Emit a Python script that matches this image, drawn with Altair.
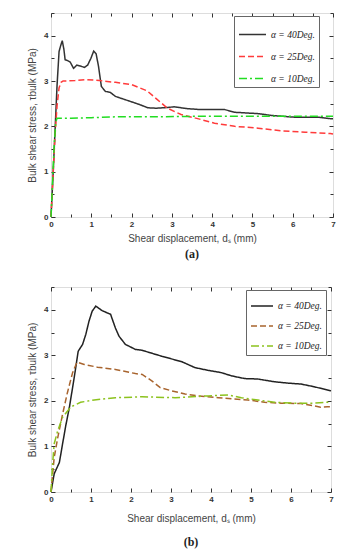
import altair as alt
import pandas as pd

# ---------------- data ----------------
names = ["α = 40Deg.", "α = 25Deg.", "α = 10Deg."]

a40_x = [0, 0.05, 0.1, 0.15, 0.2, 0.24, 0.28, 0.32, 0.35, 0.41, 0.475, 0.56, 0.64, 0.73, 0.83, 0.91, 0.99, 1.06, 1.12, 1.18, 1.25, 1.35, 1.47, 1.6, 1.8, 1.97, 2.2, 2.4, 2.6, 2.8, 3.06, 3.39, 3.7, 4.06, 4.31, 4.56, 5.14, 5.48, 6.06, 6.64, 6.93, 7.0]
a40_y = [0, 0.9, 1.9, 2.9, 3.65, 3.78, 3.89, 3.7, 3.47, 3.45, 3.42, 3.28, 3.35, 3.33, 3.3, 3.35, 3.5, 3.66, 3.6, 3.32, 2.88, 2.77, 2.75, 2.66, 2.6, 2.55, 2.48, 2.41, 2.4, 2.41, 2.43, 2.39, 2.37, 2.37, 2.37, 2.31, 2.28, 2.24, 2.2, 2.2, 2.17, 2.17]

a25_x = [0, 0.05, 0.1, 0.15, 0.2, 0.25, 0.3, 0.6, 0.9, 1.2, 1.6, 2.0, 2.39, 2.64, 2.89, 3.23, 3.64, 4.06, 4.56, 5.14, 5.73, 6.31, 6.93, 7.0]
a25_y = [0, 0.9, 1.8, 2.45, 2.85, 2.97, 3.0, 3.01, 3.03, 3.01, 2.97, 2.92, 2.78, 2.59, 2.4, 2.26, 2.17, 2.07, 2.0, 1.96, 1.9, 1.87, 1.84, 1.83]

a10_x = [0, 0.04, 0.08, 0.12, 0.15, 0.5, 1.0, 1.6, 2.5, 3.5, 5.0, 6.0, 7.0]
a10_y = [0, 0.8, 1.6, 2.1, 2.18, 2.18, 2.19, 2.21, 2.21, 2.22, 2.22, 2.22, 2.22]

b40_x = [0, 0.08, 0.21, 0.29, 0.37, 0.46, 0.58, 0.68, 0.79, 0.87, 0.95, 1.03, 1.12, 1.28, 1.49, 1.61, 1.7, 1.86, 2.11, 2.28, 2.77, 3.27, 3.6, 3.93, 4.26, 4.51, 4.84, 5.17, 5.58, 5.92, 6.25, 6.58, 6.91, 7.0]
b40_y = [0, 0.4, 0.65, 1.06, 1.46, 1.86, 2.51, 3.09, 3.24, 3.46, 3.75, 3.97, 4.08, 3.98, 3.9, 3.6, 3.42, 3.24, 3.13, 3.11, 2.98, 2.86, 2.73, 2.67, 2.62, 2.55, 2.49, 2.48, 2.42, 2.39, 2.37, 2.31, 2.24, 2.22]

b25_x = [0, 0.08, 0.17, 0.29, 0.41, 0.54, 0.65, 0.83, 1.16, 1.61, 2.11, 2.28, 2.52, 2.73, 3.02, 3.35, 3.68, 4.18, 4.59, 4.92, 5.34, 5.75, 6.25, 6.58, 6.74, 6.91, 7.0]
b25_y = [0, 0.76, 1.2, 1.71, 2.18, 2.62, 2.85, 2.8, 2.74, 2.69, 2.6, 2.58, 2.44, 2.29, 2.22, 2.15, 2.11, 2.07, 2.04, 2.02, 1.97, 1.95, 1.94, 1.89, 1.86, 1.87, 1.87]

b10_x = [0, 0.04, 0.08, 0.17, 0.29, 0.5, 0.74, 1.08, 1.61, 2.28, 3.1, 3.93, 4.43, 4.76, 5.17, 5.58, 6.08, 6.58, 6.91, 7.0]
b10_y = [0, 0.62, 1.06, 1.35, 1.64, 1.87, 1.97, 2.02, 2.07, 2.09, 2.07, 2.11, 2.13, 2.07, 2.02, 1.97, 1.95, 1.95, 1.97, 1.95]

x_major = [0, 1, 2, 3, 4, 5, 6, 7]
x_minor = [0.5, 1.5, 2.5, 3.5, 4.5, 5.5, 6.5]
y_major = [0, 1, 2, 3, 4]
y_minor = [0.5, 1.5, 2.5, 3.5, 4.5]

x_title = "Shear displacement, dₛ (mm)"
y_title = "Bulk shear stress, τbulk (MPa)"


def frame(xs_list, ys_list):
    rows = []
    for i, (xs, ys) in enumerate(zip(xs_list, ys_list)):
        for j, (x, y) in enumerate(zip(xs, ys)):
            rows.append({"series": names[i], "x": x, "y": y, "order": j})
    return pd.DataFrame(rows)


FONT = "Liberation Sans"
TICK_COLOR = "#333333"


def panel(df, colors, dashes, label, legend_x, legend_y, symbol_len, w, h,
          x_title_pad, label_offset):
    xs = alt.Scale(domain=[0, 7], nice=False, zero=False)
    ys = alt.Scale(domain=[0, 4.5], nice=False, zero=False)

    def ax(orient, values, size, labels, title=None, title_pad=4):
        kw = dict(
            orient=orient, values=values, tickSize=size, offset=-size,
            domain=False, grid=False, ticks=True, tickColor=TICK_COLOR,
            tickWidth=1, labels=labels,
        )
        if labels:
            kw.update(labelFont=FONT, labelFontSize=8, labelFontWeight="bold",
                      labelColor="#333333", labelPadding=3, labelFlush=False)
        if title:
            kw.update(title=title, titleFont=FONT, titleFontSize=10,
                      titleFontWeight="normal", titleColor="#444444",
                      titlePadding=title_pad)
        else:
            kw.update(title=None)
        return alt.Axis(**kw)

    base = alt.Chart(df)
    lines = base.mark_line(strokeWidth=1.5).encode(
        x=alt.X("x:Q", scale=xs, axis=ax("bottom", x_major, 4, True, x_title, x_title_pad)),
        y=alt.Y("y:Q", scale=ys, axis=ax("left", y_major, 4, True, y_title, 6)),
        color=alt.Color(
            "series:N",
            scale=alt.Scale(domain=names, range=colors),
            legend=alt.Legend(
                title=None, orient="none", legendX=legend_x, legendY=legend_y,
                symbolType="stroke", symbolSize=symbol_len * symbol_len,
                symbolStrokeWidth=1.5, labelFont="Liberation Serif",
                labelFontStyle="italic", labelFontSize=9.5, labelColor="#222222",
                strokeColor="#666666", padding=4, rowPadding=3,
                fillColor="white", labelOffset=4,
            ),
        ),
        strokeDash=alt.StrokeDash(
            "series:N", scale=alt.Scale(domain=names, range=dashes), legend=None
        ),
        detail="series:N",
        order="order:Q",
    )

    def ghost(xo, xv, xsz, yo, yv, ysz):
        return base.mark_line(strokeOpacity=0).encode(
            x=alt.X("x:Q", scale=xs, axis=ax(xo, xv, xsz, False)),
            y=alt.Y("y:Q", scale=ys, axis=ax(yo, yv, ysz, False)),
            detail="series:N",
            order="order:Q",
        )

    g1 = ghost("bottom", x_minor, 3, "left", y_minor, 3)
    g2 = ghost("top", x_major, 4, "right", y_major, 4)
    g3 = ghost("top", x_minor, 3, "right", y_minor, 3)

    return alt.layer(lines, g1, g2, g3).resolve_axis(
        x="independent", y="independent"
    ).properties(
        width=w, height=h,
        title=alt.TitleParams(
            label, orient="bottom", font="Liberation Serif", fontWeight="bold",
            fontSize=12, color="#222222", offset=label_offset,
        ),
    )


df_a = frame([a40_x, a25_x, a10_x], [a40_y, a25_y, a10_y])
df_b = frame([b40_x, b25_x, b10_x], [b40_y, b25_y, b10_y])

pa = panel(df_a, ["#333333", "#ff3b3b", "#22dd22"],
           [[1, 0], [6, 3], [8, 3, 2, 3]], "(a)", 183, 3, 27, 282, 204,
           5, 6)
pb = panel(df_b, ["#222222", "#a8642e", "#8cc21e"],
           [[1, 0], [6, 3], [8, 3, 2, 3]], "(b)", 195, 3, 22, 280, 205,
           10, 14)

chart = alt.vconcat(pa, pb, spacing=25).resolve_scale(
    color="independent", strokeDash="independent"
).resolve_legend(
    color="independent", strokeDash="independent"
).properties(
    padding={"left": 19, "top": 4, "right": 4, "bottom": 2}
).configure_view(stroke="#333333", strokeWidth=1).configure(background="white")

chart.save("out.html", embed_options={"renderer": "svg", "actions": False})
